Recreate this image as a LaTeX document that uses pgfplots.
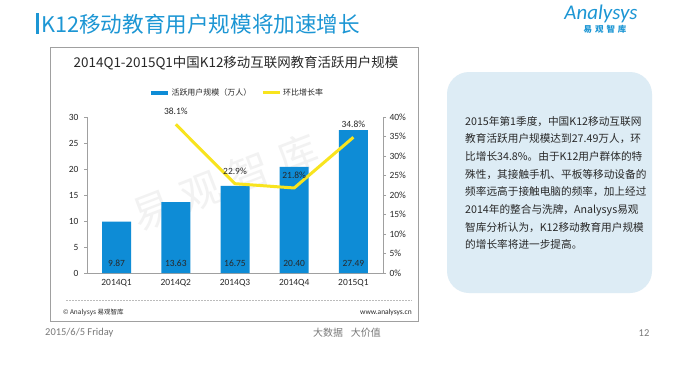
\documentclass[border=0pt]{standalone}
\usepackage{fontspec}
\setmainfont{Carlito}
\newfontfamily\cjk{Noto Sans CJK SC}
\usepackage{pgfplots}
\pgfplotsset{compat=1.18}
\definecolor{barblue}{RGB}{14,140,214}
\definecolor{lineyellow}{RGB}{248,228,30}
\definecolor{titleblue}{RGB}{28,150,212}
\definecolor{boxblue}{RGB}{221,236,245}
\definecolor{axisgray}{RGB}{160,160,160}
\definecolor{txt}{RGB}{40,40,40}
\definecolor{foot}{RGB}{120,120,120}
\begin{document}
\begin{tikzpicture}[x=1bp,y=1bp]
\fill[white] (0,0) rectangle (690,365);
% slide title
\fill[titleblue] (36,365-13) rectangle (38.5,365-34);
\node[anchor=west, font=\cjk\fontsize{21.7}{24}\selectfont, text=titleblue, inner sep=0] at (41,365-24) {K12移动教育用户规模将加速增长};
% logo
\node[font=\fontsize{21}{22}\selectfont\itshape, text=titleblue, inner sep=0] at (601,365-14) {Analysys};
\node[font=\cjk\fontsize{8.5}{9}\selectfont\bfseries, text=titleblue, inner sep=0] at (605,365-29) {易\hspace{3bp}观\hspace{3bp}智\hspace{3bp}库};
% chart frame
\draw[axisgray, line width=0.8bp] (50,365-47) rectangle (418,365-321);
\node[font=\cjk\fontsize{13.5}{16}\selectfont, text=txt, inner sep=0] at (236,365-63) {2014Q1-2015Q1中国K12移动互联网教育活跃用户规模};
% watermark
\node[rotate=21, font=\cjk\fontsize{40}{40}\selectfont, text=black!5, inner sep=0] at (225,365-182) {易\hspace{12bp}观\hspace{12bp}智\hspace{12bp}库};
\begin{axis}[
  at={(87bp,92bp)}, anchor=south west,
  width=296bp, height=156bp, scale only axis,
  xmin=-0.5, xmax=4.5, ymin=0, ymax=30,
  axis x line*=bottom, axis y line*=left,
  axis line style={axisgray, line width=0.6bp, -},
  ytick={0,5,...,30}, xtick={0,...,4},
  xticklabels={2014Q1,2014Q2,2014Q3,2014Q4,2015Q1},
  tick align=outside, major tick length=3bp,
  x tick style={draw=none}, y tick style={axisgray, line width=0.6bp},
  ticklabel style={font=\fontsize{9.5}{10}\selectfont, text=txt},
  yticklabel style={xshift=-2bp},
  /pgf/number format/assume math mode=true,
  clip=false,
]
\addplot[ybar, bar width=29bp, fill=barblue, draw=none] coordinates {(0,9.87)(1,13.63)(2,16.75)(3,20.40)(4,27.49)};
\addplot[draw=none, nodes near coords, point meta=explicit symbolic,
  every node near coord/.style={anchor=center, inner sep=0, font=\fontsize{9.5}{10}\selectfont, text=txt}]
  coordinates {(0,1.9)[9.87] (1,1.9)[13.63] (2,1.9)[16.75] (3,1.9)[20.40] (4,1.9)[27.49]};
\end{axis}
\begin{axis}[
  at={(87bp,92bp)}, anchor=south west,
  width=296bp, height=156bp, scale only axis,
  xmin=-0.5, xmax=4.5, ymin=0, ymax=40,
  axis y line*=right, axis x line=none,
  axis line style={axisgray, line width=0.6bp, -},
  ytick={0,5,...,40}, yticklabel={\pgfmathprintnumber{\tick}\%},
  tick align=outside, major tick length=3bp,
  y tick style={axisgray, line width=0.6bp},
  ticklabel style={font=\fontsize{9.5}{10}\selectfont, text=txt},
  /pgf/number format/assume math mode=true,
  clip=false,
  legend image code/.code={\draw[#1] (0bp,0bp) -- (17bp,0bp);},
  legend style={at={(0.507,1.154)}, anchor=center, draw=none, fill=none,
    font=\cjk\fontsize{8}{9}\selectfont, text=txt, legend columns=2,
    /tikz/every even column/.append style={column sep=8bp}, inner sep=0},
]
\addlegendimage{barblue, line width=3.5bp}
\addlegendentry{活跃用户规模（万人）}
\addplot[lineyellow, line width=3bp, line join=round,
  nodes near coords={\pgfmathprintnumber[fixed, precision=1, fixed zerofill]{\pgfplotspointmeta}\%},
  every node near coord/.style={anchor=south, inner sep=0, yshift=8bp, font=\fontsize{9.5}{10}\selectfont, text=txt}]
  coordinates {(1,38.1)(2,22.9)(3,21.8)(4,34.8)};
\addlegendentry{环比增长率}
\end{axis}
% footer inside frame
\draw[axisgray!70, line width=0.5bp, dash pattern=on 1.5bp off 1.5bp] (66,365-300) -- (412,365-300);
\node[anchor=west, font=\cjk\fontsize{6.5}{7}\selectfont, text=txt, inner sep=0] at (63,365-313) {© Analysys 易观智库};
\node[anchor=east, font=\fontsize{7.5}{8}\selectfont, text=txt, inner sep=0] at (412,365-313) {www.analysys.cn};
% text box
\fill[boxblue, rounded corners=22bp] (447,365-72) rectangle (652,365-293);
\node[anchor=north west, inner sep=0, align=left, font=\cjk\fontsize{10.7}{17.7}\selectfont, text=txt] at (465,365-116) {2015年第1季度，中国K12移动互联网\\教育活跃用户规模达到27.49万人，环\\比增长34.8\%。由于K12用户群体的特\\殊性，其接触手机、平板等移动设备的\\频率远高于接触电脑的频率，加上经过\\2014年的整合与洗牌，Analysys易观\\智库分析认为，K12移动教育用户规模\\的增长率将进一步提高。};
% slide footer
\node[anchor=west, font=\fontsize{10.5}{12}\selectfont, text=foot, inner sep=0] at (45,365-333) {2015/6/5 Friday};
\node[font=\cjk\fontsize{10}{12}\selectfont, text=foot, inner sep=0] at (347,365-333) {大数据\hspace{8bp}大价值};
\node[font=\fontsize{10.5}{12}\selectfont, text=foot, inner sep=0] at (644,365-333) {12};
\end{tikzpicture}
\end{document}
